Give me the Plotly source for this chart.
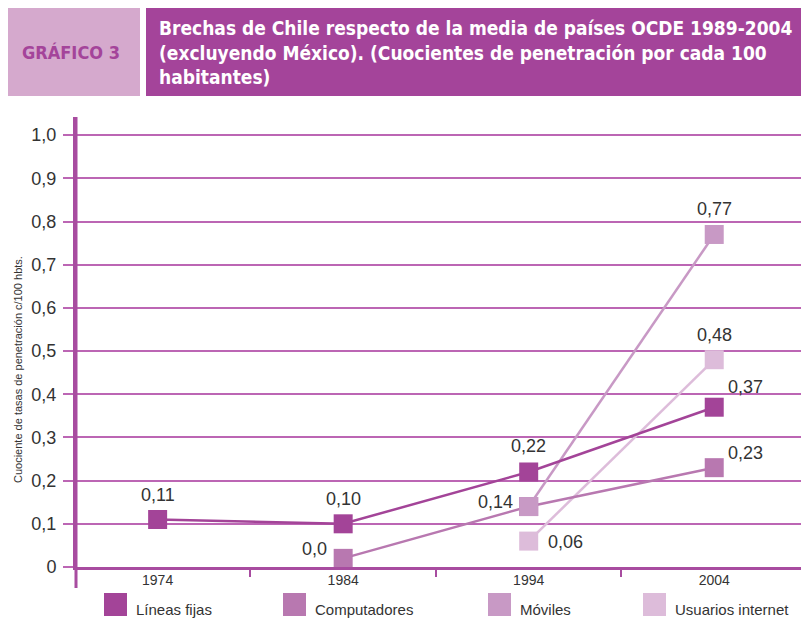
import plotly.graph_objects as go

# ---------------- data ----------------
years = ["1974", "1984", "1994", "2004"]
series_names = ["Líneas fijas", "Computadores", "Móviles", "Usuarios internet"]
lineas_fijas = [0.11, 0.10, 0.22, 0.37]
computadores = [None, 0.02, 0.14, 0.23]
moviles = [None, None, 0.14, 0.77]
usuarios_internet = [None, None, 0.06, 0.48]
labels_lineas = ["0,11", "0,10", "0,22", "0,37"]
labels_comp = [None, "0,0", "0,14", "0,23"]
labels_mov = [None, None, None, "0,77"]
labels_usu = [None, None, "0,06", "0,48"]
y_tickvals = [0, 0.1, 0.2, 0.3, 0.4, 0.5, 0.6, 0.7, 0.8, 0.9, 1.0]
y_ticktext = ["0", "0,1", "0,2", "0,3", "0,4", "0,5", "0,6", "0,7", "0,8", "0,9", "1,0"]
title_text = ("Brechas de Chile respecto de la media de países OCDE 1989-2004<br>"
              "(excluyendo México). (Cuocientes de penetración por cada 100<br>"
              "habitantes)")
chart_label = "GRÁFICO 3"
y_title = "Cuociente de tasas de penetración c/100 hbts."

# ---------------- styles ----------------
colors = ["#A34498", "#B878B0", "#C899C5", "#DDBCDA"]
OFF = 8  # page body margin
W, H = 809 - OFF, 629 - OFF
# plot area in window pixels: x 76..807, y 117..567
PX0, PX1, PY0, PY1 = 76, 807, 117, 567
L, T = PX0 - OFF, PY0 - OFF
R = W - (PX1 - OFF)
B = H - (PY1 - OFF)
PW, PH = PX1 - PX0, PY1 - PY0


def px(x):
    return (x - PX0) / PW


def py(y):
    return (PY1 - y) / PH


TXT = "#333333"
GRID = "#BC66B4"
AXIS = "#A84CA0"
COND = "DejaVu Sans Condensed, Liberation Sans Narrow, Arial Narrow"
SANS = "Liberation Sans, Arial"

fig = go.Figure()

series = [lineas_fijas, computadores, moviles, usuarios_internet]
labels = [labels_lineas, labels_comp, labels_mov, labels_usu]
# offsets (px) of labels relative to markers
offsets = [
    [(0, 25), (0, 25), (0, 26), (31, 20)],
    [None, (-29, 9), (-33, 5), (31, 15)],
    [None, None, None, (0, 25)],
    [None, None, (37, -1), (0, 25)],
]

draw_order = [3, 1, 2, 0]
for i in draw_order:
    fig.add_trace(go.Scatter(
        x=years, y=series[i], mode="lines+markers", name=series_names[i],
        line=dict(color=colors[i], width=2.5),
        marker=dict(symbol="square", size=19, color=colors[i]),
        connectgaps=False, showlegend=False, cliponaxis=False,
    ))

annotations = []
for i in range(4):
    for j, yr in enumerate(years):
        lab = labels[i][j]
        if lab is None or series[i][j] is None:
            continue
        dx, dy = offsets[i][j]
        annotations.append(dict(
            x=j, y=series[i][j], xref="x", yref="y", text=lab,
            showarrow=False, xshift=dx, yshift=dy, xanchor="center", yanchor="middle",
            font=dict(size=18, color=TXT, family=SANS),
        ))

# y-axis title
annotations.append(dict(
    x=px(18), y=py(370), xref="paper", yref="paper", text=y_title,
    textangle=-90, showarrow=False, xanchor="center", yanchor="middle",
    font=dict(size=11, color=TXT, family=SANS),
))

# header
shapes = [
    dict(type="rect", xref="paper", yref="paper", x0=px(5), x1=px(140),
         y0=py(96), y1=py(8), fillcolor="#D5A9CD", line=dict(width=0), layer="below"),
    dict(type="rect", xref="paper", yref="paper", x0=px(146), x1=px(809),
         y0=py(96), y1=py(8), fillcolor="#A4449A", line=dict(width=0), layer="below"),
    # y axis line extension below the x axis
    dict(type="line", xref="paper", yref="paper", x0=0, x1=0,
         y0=py(588), y1=1, line=dict(color=AXIS, width=3)),
]
annotations.append(dict(
    x=px(71), y=py(53), xref="paper", yref="paper", text="<b>%s</b>" % chart_label,
    showarrow=False, xanchor="center", yanchor="middle",
    font=dict(size=18, color="#A4449A", family=COND),
))
annotations.append(dict(
    x=px(157), y=py(52), xref="paper", yref="paper", text="<b>%s</b>" % title_text,
    showarrow=False, xanchor="left", yanchor="middle", align="left",
    font=dict(size=19, color="white", family=COND),
))

# legend (manual)
leg_x = [104, 283, 488, 643]
for i in range(4):
    shapes.append(dict(type="rect", xref="paper", yref="paper",
                       x0=px(leg_x[i]), x1=px(leg_x[i] + 23), y0=py(616), y1=py(593),
                       fillcolor=colors[i], line=dict(width=0)))
    annotations.append(dict(
        x=px(leg_x[i] + 30), y=py(609), xref="paper", yref="paper",
        text=series_names[i], showarrow=False, xanchor="left", yanchor="middle",
        font=dict(size=15, color=TXT, family=SANS),
    ))

fig.update_layout(
    width=W, height=H,
    margin=dict(l=L, r=R, t=T, b=B),
    paper_bgcolor="white", plot_bgcolor="white",
    showlegend=False,
    shapes=shapes, annotations=annotations,
    xaxis=dict(
        type="category", range=[-0.44, 3.5], showgrid=False,
        showline=True, linecolor=AXIS, linewidth=3,
        ticks="outside", tickson="boundaries", ticklen=7, tickwidth=1.5, tickcolor=AXIS,
        tickfont=dict(size=14, color=TXT, family=SANS),
        ticklabelstandoff=-2,
        zeroline=False, fixedrange=True,
    ),
    yaxis=dict(
        range=[0, 1.042], tickvals=y_tickvals, ticktext=y_ticktext,
        showgrid=True, gridcolor=GRID, gridwidth=1.5,
        showline=True, linecolor=AXIS, linewidth=3,
        ticks="outside", ticklen=10, tickwidth=1.5, tickcolor=GRID,
        tickfont=dict(size=18, color=TXT, family=SANS),
        ticklabelstandoff=3,
        zeroline=False, fixedrange=True,
    ),
)

fig.write_html("out.html")
